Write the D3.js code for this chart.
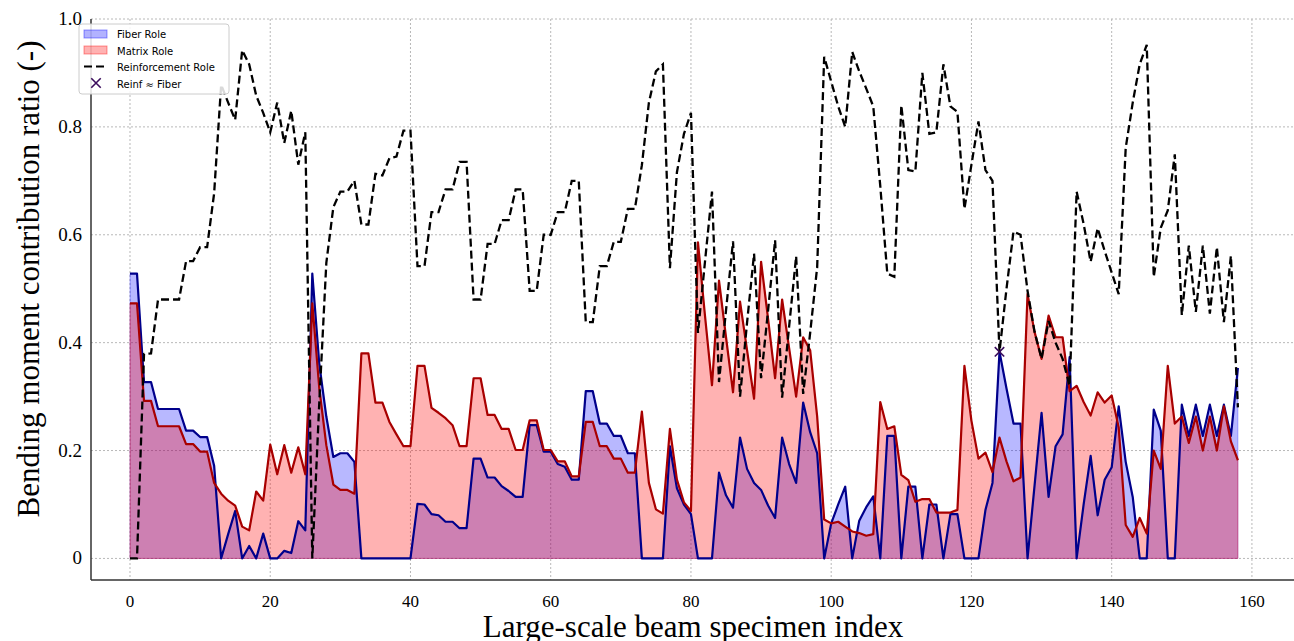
<!DOCTYPE html>
<html>
<head>
<meta charset="utf-8">
<script src="https://cdn.jsdelivr.net/npm/d3@7"></script>
<style>
  body { margin: 0; background: #fff; }
  svg { display: block; }
</style>
</head>
<body>
<div id="chart"></div>
<script>
// contribution ratios, one value per specimen (index 0..158)
var fiber = [
  0.528, 0.528, 0.327, 0.327, 0.277, 0.277, 0.277, 0.277, 0.237, 0.237,
  0.225, 0.225, 0.172, 0, 0.045, 0.088, 0, 0.023, 0, 0.046,
  0, 0, 0.014, 0.01, 0.069, 0.052, 0.528, 0.36, 0.263, 0.188,
  0.195, 0.195, 0.179, 0, 0, 0, 0, 0, 0, 0,
  0, 0.101, 0.1, 0.082, 0.08, 0.068, 0.068, 0.056, 0.056, 0.185,
  0.185, 0.15, 0.15, 0.134, 0.125, 0.114, 0.114, 0.247, 0.247, 0.198,
  0.198, 0.175, 0.17, 0.146, 0.146, 0.31, 0.31, 0.25, 0.25, 0.227,
  0.227, 0.195, 0.195, 0, 0, 0, 0, 0.208, 0.13, 0.1,
  0.082, 0, 0, 0, 0.159, 0.117, 0.094, 0.224, 0.166, 0.14,
  0.127, 0.098, 0.075, 0.224, 0.175, 0.14, 0.289, 0.234, 0.195, 0,
  0.065, 0.1, 0.133, 0, 0.07, 0.095, 0.115, 0, 0.227, 0.227,
  0, 0.133, 0.133, 0, 0.1, 0.1, 0, 0.082, 0.082, 0,
  0, 0, 0.09, 0.14, 0.383, 0.315, 0.25, 0.25, 0, 0.135,
  0.27, 0.114, 0.208, 0.23, 0.373, 0, 0.1, 0.19, 0.08, 0.146,
  0.169, 0.282, 0.179, 0.114, 0, 0, 0.276, 0.237, 0, 0,
  0.285, 0.227, 0.285, 0.227, 0.285, 0.227, 0.285, 0.227, 0.353
];

var matrix = [
  0.473, 0.473, 0.292, 0.292, 0.245, 0.245, 0.245, 0.245, 0.212, 0.212,
  0.198, 0.198, 0.14, 0.12, 0.107, 0.098, 0.059, 0.052, 0.124, 0.107,
  0.211, 0.156, 0.21, 0.159, 0.206, 0.156, 0.473, 0.315, 0.21, 0.137,
  0.127, 0.127, 0.12, 0.38, 0.38, 0.289, 0.289, 0.253, 0.23, 0.208,
  0.208, 0.357, 0.357, 0.279, 0.27, 0.26, 0.247, 0.208, 0.208, 0.334,
  0.334, 0.266, 0.266, 0.24, 0.24, 0.201, 0.201, 0.256, 0.256, 0.201,
  0.201, 0.18, 0.18, 0.152, 0.152, 0.253, 0.253, 0.208, 0.208, 0.185,
  0.185, 0.159, 0.159, 0.272, 0.14, 0.091, 0.083, 0.24, 0.146, 0.104,
  0.088, 0.586, 0.45, 0.321, 0.515, 0.41, 0.308, 0.476, 0.386, 0.296,
  0.55, 0.444, 0.334, 0.48, 0.39, 0.3, 0.41, 0.386, 0.263, 0.072,
  0.065, 0.068, 0.059, 0.05, 0.047, 0.042, 0.045, 0.29, 0.24, 0.245,
  0.155, 0.145, 0.105, 0.11, 0.11, 0.085, 0.085, 0.085, 0.09, 0.357,
  0.255, 0.185, 0.196, 0.16, 0.224, 0.18, 0.143, 0.15, 0.49, 0.42,
  0.37, 0.45, 0.41, 0.41, 0.31, 0.32, 0.29, 0.265, 0.308, 0.289,
  0.302, 0.243, 0.062, 0.04, 0.075, 0.046, 0.2, 0.166, 0.357, 0.25,
  0.263, 0.214, 0.263, 0.2, 0.263, 0.2, 0.282, 0.217, 0.182
];

var reinforcement = [
  0, 0, 0.379, 0.38, 0.48, 0.48, 0.48, 0.48, 0.551, 0.551,
  0.577, 0.577, 0.677, 0.878, 0.845, 0.813, 0.942, 0.916, 0.858, 0.826,
  0.79, 0.845, 0.77, 0.83, 0.73, 0.79, 0, 0.29, 0.548, 0.651,
  0.68, 0.68, 0.7, 0.619, 0.619, 0.713, 0.71, 0.742, 0.745, 0.793,
  0.793, 0.542, 0.542, 0.642, 0.642, 0.684, 0.684, 0.735, 0.735, 0.48,
  0.48, 0.583, 0.583, 0.627, 0.627, 0.684, 0.684, 0.496, 0.496, 0.6,
  0.6, 0.642, 0.642, 0.7, 0.7, 0.438, 0.438, 0.542, 0.542, 0.587,
  0.587, 0.648, 0.648, 0.729, 0.845, 0.903, 0.916, 0.538, 0.716, 0.787,
  0.826, 0.418, 0.55, 0.68, 0.327, 0.46, 0.588, 0.3, 0.437, 0.565,
  0.334, 0.46, 0.59, 0.298, 0.43, 0.56, 0.305, 0.418, 0.54, 0.93,
  0.884, 0.838, 0.8, 0.939, 0.903, 0.871, 0.838, 0.69, 0.528, 0.522,
  0.84, 0.72, 0.717, 0.9, 0.787, 0.79, 0.916, 0.838, 0.828, 0.648,
  0.73, 0.81, 0.72, 0.7, 0.383, 0.5, 0.606, 0.6, 0.496, 0.42,
  0.37, 0.44, 0.4, 0.37, 0.32, 0.68, 0.62, 0.55, 0.612, 0.57,
  0.53, 0.49, 0.761, 0.845, 0.916, 0.952, 0.522, 0.613, 0.645, 0.749,
  0.451, 0.58, 0.457, 0.58, 0.454, 0.577, 0.438, 0.561, 0.28
];

// specimens where reinforcement ~ fiber
var matchIdx = [124];

var xTicks = [0, 20, 40, 60, 80, 100, 120, 140, 160];
var yTicks = [0, 0.2, 0.4, 0.6, 0.8, 1.0];
var legendLabels = ["Fiber Role", "Matrix Role", "Reinforcement Role", "Reinf \u2248 Fiber"];

var width = 1294;
var height = 641;
var plotLeft = 91, plotRight = 1294, plotTop = 19, plotBottom = 580;

var xScale = d3.scaleLinear()
    .domain([-5.56, 166])
    .range([plotLeft, plotRight]);

var yScale = d3.scaleLinear()
    .domain([-0.04, 1.0])
    .range([plotBottom, plotTop]);

var svg = d3.select("#chart").append("svg")
    .attr("width", width)
    .attr("height", height);

// grid
var grid = svg.append("g");
grid.selectAll(".hgrid")
    .data(yTicks)
    .enter()
    .append("line")
        .attr("x1", plotLeft)
        .attr("x2", plotRight)
        .attr("y1", function(d) { return yScale(d); })
        .attr("y2", function(d) { return yScale(d); })
        .attr("stroke", "#b8b8b8")
        .attr("stroke-width", 1)
        .attr("stroke-dasharray", "2,2");

grid.selectAll(".vgrid")
    .data(xTicks)
    .enter()
    .append("line")
        .attr("x1", function(d) { return xScale(d); })
        .attr("x2", function(d) { return xScale(d); })
        .attr("y1", plotTop)
        .attr("y2", plotBottom)
        .attr("stroke", "#b8b8b8")
        .attr("stroke-width", 1)
        .attr("stroke-dasharray", "2,2");

// areas
var areaOf = function(values) {
    return d3.area()
        .x(function(d, i) { return xScale(i); })
        .y0(yScale(0))
        .y1(function(d) { return yScale(d); })(values);
};

var lineOf = function(values) {
    return d3.line()
        .x(function(d, i) { return xScale(i); })
        .y(function(d) { return yScale(d); })(values);
};

svg.append("path")
    .attr("d", areaOf(fiber))
    .attr("fill", "#0000ff")
    .attr("fill-opacity", 0.28)
    .attr("stroke", "#0000ff")
    .attr("stroke-opacity", 0.28)
    .attr("stroke-width", 1);

svg.append("path")
    .attr("d", areaOf(matrix))
    .attr("fill", "#ff0000")
    .attr("fill-opacity", 0.3)
    .attr("stroke", "#ff0000")
    .attr("stroke-opacity", 0.3)
    .attr("stroke-width", 1);

svg.append("path")
    .attr("d", lineOf(fiber))
    .attr("fill", "none")
    .attr("stroke", "#00008b")
    .attr("stroke-width", 2.2)
    .attr("stroke-linejoin", "round");

svg.append("path")
    .attr("d", lineOf(matrix))
    .attr("fill", "none")
    .attr("stroke", "#a80000")
    .attr("stroke-width", 2.2)
    .attr("stroke-linejoin", "round");

svg.append("path")
    .attr("d", lineOf(reinforcement))
    .attr("fill", "none")
    .attr("stroke", "#000")
    .attr("stroke-width", 2.3)
    .attr("stroke-dasharray", "8,4");

// match markers
var cross = d3.symbol().type(d3.symbolX).size(60);
svg.selectAll(".match")
    .data(matchIdx)
    .enter()
    .append("path")
        .attr("d", cross)
        .attr("transform", function(d) {
            return "translate(" + xScale(d) + "," + yScale(fiber[d]) + ")";
        })
        .attr("fill", "none")
        .attr("stroke", "#3a0c5c")
        .attr("stroke-width", 1.6);

// spines
svg.append("line")
    .attr("x1", plotLeft).attr("x2", plotLeft)
    .attr("y1", plotTop).attr("y2", plotBottom)
    .attr("stroke", "#333").attr("stroke-width", 1.5);
svg.append("line")
    .attr("x1", plotLeft).attr("x2", plotRight)
    .attr("y1", plotBottom).attr("y2", plotBottom)
    .attr("stroke", "#333").attr("stroke-width", 1.5);

// tick labels
svg.selectAll(".ylab")
    .data(yTicks)
    .enter()
    .append("text")
        .attr("x", 82)
        .attr("y", function(d) { return yScale(d) + 6; })
        .attr("text-anchor", "end")
        .style("font-family", "Liberation Serif")
        .style("font-size", "19px")
        .text(function(d) { return d === 0 ? "0" : d.toFixed(1); });

svg.selectAll(".xlab")
    .data(xTicks)
    .enter()
    .append("text")
        .attr("x", function(d) { return xScale(d); })
        .attr("y", 607)
        .attr("text-anchor", "middle")
        .style("font-family", "Liberation Serif")
        .style("font-size", "17px")
        .text(function(d) { return d; });

// axis titles
svg.append("text")
    .attr("x", 693)
    .attr("y", 637)
    .attr("text-anchor", "middle")
    .style("font-family", "Liberation Serif")
    .style("font-size", "31px")
    .text("Large-scale beam specimen index");

svg.append("text")
    .attr("transform", "translate(39,279) rotate(-90)")
    .attr("text-anchor", "middle")
    .style("font-family", "Liberation Serif")
    .style("font-size", "31px")
    .text("Bending moment contribution ratio (-)");

// legend
var legend = svg.append("g").attr("transform", "translate(79,24)");
legend.append("rect")
    .attr("width", 150)
    .attr("height", 70)
    .attr("rx", 3)
    .attr("fill", "#fff")
    .attr("fill-opacity", 0.85)
    .attr("stroke", "#cccccc");

legend.append("rect")
    .attr("x", 5).attr("y", 6).attr("width", 23).attr("height", 8)
    .attr("fill", "#0000ff").attr("fill-opacity", 0.3)
    .attr("stroke", "#0000ff").attr("stroke-opacity", 0.4);
legend.append("rect")
    .attr("x", 5).attr("y", 22).attr("width", 23).attr("height", 8)
    .attr("fill", "#ff0000").attr("fill-opacity", 0.3)
    .attr("stroke", "#ff0000").attr("stroke-opacity", 0.4);
legend.append("line")
    .attr("x1", 5).attr("x2", 28).attr("y1", 42.5).attr("y2", 42.5)
    .attr("stroke", "#000").attr("stroke-width", 2)
    .attr("stroke-dasharray", "8,4");
legend.append("path")
    .attr("d", cross)
    .attr("transform", "translate(17,59)")
    .attr("fill", "none")
    .attr("stroke", "#3a0c5c")
    .attr("stroke-width", 1.6);

legend.selectAll(".ltext")
    .data(legendLabels)
    .enter()
    .append("text")
        .attr("x", 38)
        .attr("y", function(d, i) { return 14 + i * 16.5; })
        .style("font-family", "DejaVu Sans")
        .style("font-size", "10px")
        .text(function(d) { return d; });
</script>
</body>
</html>
